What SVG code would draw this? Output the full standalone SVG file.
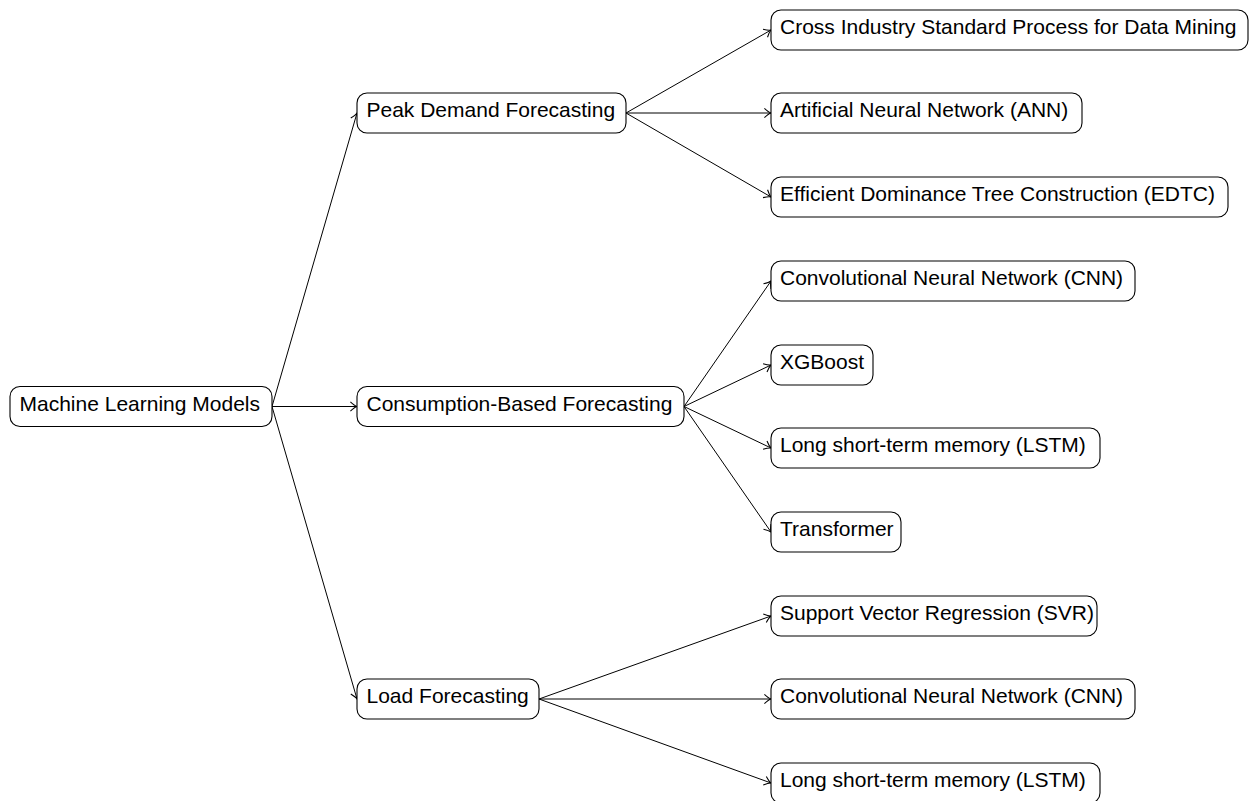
<svg xmlns="http://www.w3.org/2000/svg" width="1250" height="801" viewBox="0 0 1250 801">
<style>
.box{fill:#fff;stroke:#000;stroke-width:1.1}
.lbl{font-family:"Liberation Sans",Arial,sans-serif;font-size:21px;fill:#000}
.edge{fill:none;stroke:#000;stroke-width:1}
</style>
<defs>
<marker id="arr" markerUnits="userSpaceOnUse" markerWidth="12" markerHeight="12" viewBox="-7 -5 8 10" refX="0" refY="0" orient="auto">
<path d="M -5.5 -3.8 Q -2 -0.6 0 0 Q -2 0.6 -5.5 3.8" fill="none" stroke="#000" stroke-width="0.9"/>
</marker>
</defs>
<rect width="1250" height="801" fill="#fff"/>
<g id="connectors">
<line class="edge" x1="272" y1="406.5" x2="357" y2="113" marker-end="url(#arr)"/>
<line class="edge" x1="272" y1="406.5" x2="357" y2="406.5" marker-end="url(#arr)"/>
<line class="edge" x1="272" y1="406.5" x2="357" y2="699" marker-end="url(#arr)"/>
<line class="edge" x1="626" y1="113" x2="771" y2="30" marker-end="url(#arr)"/>
<line class="edge" x1="626" y1="113" x2="771" y2="113" marker-end="url(#arr)"/>
<line class="edge" x1="626" y1="113" x2="771" y2="197" marker-end="url(#arr)"/>
<line class="edge" x1="684" y1="406.5" x2="771" y2="281" marker-end="url(#arr)"/>
<line class="edge" x1="684" y1="406.5" x2="771" y2="365" marker-end="url(#arr)"/>
<line class="edge" x1="684" y1="406.5" x2="771" y2="448" marker-end="url(#arr)"/>
<line class="edge" x1="684" y1="406.5" x2="771" y2="532" marker-end="url(#arr)"/>
<line class="edge" x1="539" y1="699" x2="771" y2="616" marker-end="url(#arr)"/>
<line class="edge" x1="539" y1="699" x2="771" y2="699" marker-end="url(#arr)"/>
<line class="edge" x1="539" y1="699" x2="771" y2="783" marker-end="url(#arr)"/>
</g>
<g id="root"><rect class="box" x="10" y="386.5" width="262" height="40" rx="10"/><text class="lbl" x="19.5" y="410.5">Machine Learning Models</text></g>
<g id="peak"><rect class="box" x="357" y="93" width="269" height="40" rx="10"/><text class="lbl" x="366.5" y="117">Peak Demand Forecasting</text></g>
<g id="consumption"><rect class="box" x="357" y="386.5" width="327" height="40" rx="10"/><text class="lbl" x="366.5" y="410.5">Consumption-Based Forecasting</text></g>
<g id="load"><rect class="box" x="357" y="679" width="182" height="40" rx="10"/><text class="lbl" x="366.5" y="703">Load Forecasting</text></g>
<g id="crisp"><rect class="box" x="771" y="10" width="477" height="40" rx="10"/><text class="lbl" x="780" y="34">Cross Industry Standard Process for Data Mining</text></g>
<g id="ann"><rect class="box" x="771" y="93" width="311" height="40" rx="10"/><text class="lbl" x="780" y="117">Artificial Neural Network (ANN)</text></g>
<g id="edtc"><rect class="box" x="771" y="177" width="457" height="40" rx="10"/><text class="lbl" x="780" y="201">Efficient Dominance Tree Construction (EDTC)</text></g>
<g id="cnn1"><rect class="box" x="771" y="261" width="364" height="40" rx="10"/><text class="lbl" x="780" y="285">Convolutional Neural Network (CNN)</text></g>
<g id="xgboost"><rect class="box" x="771" y="345" width="102" height="40" rx="10"/><text class="lbl" x="780" y="369">XGBoost</text></g>
<g id="lstm1"><rect class="box" x="771" y="428" width="329" height="40" rx="10"/><text class="lbl" x="780" y="452">Long short-term memory (LSTM)</text></g>
<g id="transformer"><rect class="box" x="771" y="512" width="130" height="40" rx="10"/><text class="lbl" x="780" y="536">Transformer</text></g>
<g id="svr"><rect class="box" x="771" y="596" width="326" height="40" rx="10"/><text class="lbl" x="780" y="620">Support Vector Regression (SVR)</text></g>
<g id="cnn2"><rect class="box" x="771" y="679" width="364" height="40" rx="10"/><text class="lbl" x="780" y="703">Convolutional Neural Network (CNN)</text></g>
<g id="lstm2"><rect class="box" x="771" y="763" width="329" height="40" rx="10"/><text class="lbl" x="780" y="787">Long short-term memory (LSTM)</text></g>
</svg>
